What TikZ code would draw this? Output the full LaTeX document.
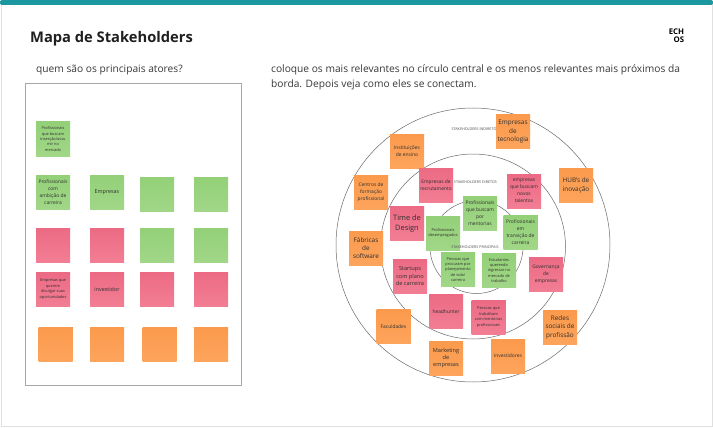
\documentclass[tikz,border=0pt]{standalone}
\usepackage{fontspec}
\setmainfont{Open Sans}
\usetikzlibrary{shadows}
\definecolor{barteal}{HTML}{1A979F}
\definecolor{inktext}{HTML}{2F2F2F}
\definecolor{greentop}{HTML}{93D077}
\definecolor{greenlow}{HTML}{A1D788}
\definecolor{pinktop}{HTML}{EC6A84}
\definecolor{pinklow}{HTML}{F27E94}
\definecolor{orangetop}{HTML}{FB9A4C}
\definecolor{orangelow}{HTML}{FDA45C}
\tikzset{
  note/.style={minimum size=34pt,inner sep=0pt,align=center,text=inktext,
    general shadow={fill=black,opacity=.38,xscale=.78,yscale=.12,yshift=-17.4pt}},
  green/.style={note,top color=greentop,bottom color=greenlow},
  pink/.style={note,top color=pinktop,bottom color=pinklow},
  orange/.style={note,top color=orangetop,bottom color=orangelow},
  fsmall/.style={font=\fontsize{3.9}{5.4}\selectfont},
  fmid/.style={font=\fontsize{4.9}{7}\selectfont},
  fbig/.style={font=\fontsize{6.4}{8.4}\selectfont},
  ring/.style={draw=black!58,line width=0.5pt},
  ringlabel/.style={font=\fontsize{3.7}{4}\selectfont,text=black!70,inner sep=0pt},
  body/.style={font=\fontsize{10.2}{15}\selectfont,text=black!78,inner sep=0pt,anchor=base west},
}
\begin{document}
\begin{tikzpicture}[x=1pt,y=-1pt]
\useasboundingbox (0,0) rectangle (713,428);
% card and top bar
\fill[white] (0,0) rectangle (713,428);
\draw[black!12,line width=0.8pt] (1,3) -- (1,426) -- (712,426) -- (712,3);
\fill[barteal,rounded corners=2pt] (0,0) rectangle (713,5);
% header
\node[font=\fontsize{14.7}{18}\selectfont\bfseries,text=black!88,inner sep=0pt,anchor=base west] (title) at (30,42.5) {Mapa de Stakeholders};
\node[font=\fontsize{7.8}{7.6}\selectfont\bfseries,inner sep=0pt,align=right] (logo) at (676.5,35.5) {ECH\\OS};
\node[body] (askleft) at (36,73) {quem são os principais atores?};
\node[body] (askright) at (271,73) {coloque os mais relevantes no círculo central e os menos relevantes mais próximos da};
\node[body] (askrighttwo) at (271,88) {borda. Depois veja como eles se conectam.};
% left board
\draw[black!35,line width=0.7pt,fill=white] (25,83.5) rectangle (241.5,385);
\node[green,fsmall] (lone) at (53,139) {Profissionais\\que buscam\\inserção/assu\\mir no\\mercado};
\node[green,fmid] (ltwoa) at (53,192) {Profissionais\\com\\ambição de\\carreira};
\node[green,font=\fontsize{5.4}{7}\selectfont] (ltwob) at (107,192) {Empresas};
\node[green] (ltwoc) at (157,194.5) {};
\node[green] (ltwod) at (211,194.5) {};
\node[pink] (lthreea) at (53,245) {};
\node[pink] (lthreeb) at (107,245) {};
\node[green] (lthreec) at (157,245) {};
\node[green] (lthreed) at (211,245) {};
\node[pink,fsmall] (lfoura) at (53,289) {Empresas que\\querem\\divulgar suas\\oportunidades};
\node[pink,font=\fontsize{5.4}{7}\selectfont] (lfourb) at (107,289) {investidor};
\node[pink] (lfourc) at (157,289) {};
\node[pink] (lfourd) at (211,289) {};
\node[orange] (lfivea) at (55.5,344) {};
\node[orange] (lfiveb) at (107,344) {};
\node[orange] (lfivec) at (159.5,344) {};
\node[orange] (lfived) at (211,344) {};
% rings
\draw[ring] (473,245) circle[radius=137] node[inner sep=0pt] (ringouter) {};
\draw[ring] (473,246.5) circle[radius=92.5] node[inner sep=0pt] (ringmiddle) {};
\draw[ring] (476.5,247) circle[radius=46.5] node[inner sep=0pt] (ringinner) {};
\node[ringlabel] (labindirect) at (475,129.5) {STAKEHOLDERS INDIRETOS};
\node[ringlabel] (labdirect) at (475.5,182.5) {STAKEHOLDERS DIRETOS};
% outer ring notes
\node[orange,fmid] (rinst) at (407,151) {Instituições\\de ensino};
\node[orange,fmid] (rcentros) at (371,192) {Centros de\\formação\\profissional};
\node[orange,fbig] (rtec) at (513,131.5) {Empresas\\de\\tecnologia};
\node[orange,fbig] (rhub) at (576,185.5) {HUB's de\\inovação};
\node[orange,fbig] (rfab) at (366,248) {Fábricas\\de\\software};
\node[orange,fmid] (rfac) at (393.5,326.5) {Faculdades};
\node[orange,fbig] (rredes) at (560,327) {Redes\\sociais de\\profissão};
\node[orange,font=\fontsize{5.6}{7.4}\selectfont] (rmkt) at (446,358) {Marketing\\de\\empresas};
\node[orange,fmid] (rinv) at (508,356) {Investidores};
% middle ring notes
\node[pink,fmid] (rrecr) at (436,185.5) {Empresas de\\recrutamento};
\node[pink,font=\fontsize{7.4}{10}\selectfont] (rtime) at (407,223.5) {Time de\\Design};
\node[pink,fmid] (rtal) at (524,191) {empresas\\que buscam\\novos\\talentos};
\node[pink,font=\fontsize{5.6}{7.4}\selectfont] (rstart) at (410,276) {Startups\\com plano\\de carreira};
\node[pink,fmid] (rgov) at (546,274) {Governança\\de\\empresas};
\node[pink,fmid] (rhead) at (446,311.5) {headhunter};
\node[pink,fsmall] (rtrab) at (488.5,317) {Pessoas que\\trabalham\\com mentorias\\profissionais};
% inner ring notes
\node[green,fsmall] (rdes) at (443,233) {Profissionais\\desempregados};
\node[green,fmid] (rment) at (480,213) {Profissionais\\que buscam\\por\\mentorias};
\node[green,fmid] (rtrans) at (520.5,232) {Profissionais\\em\\transição de\\carreira};
\node[green,fsmall] (rplan) at (458,269.5) {Pessoas que\\procuram por\\planejamento\\de vida/\\carreira};
\node[green,fsmall] (rest) at (499,270.5) {Estudantes\\querendo\\ingressar no\\mercado de\\trabalho};
\node[ringlabel] (labprincipal) at (475,247.5) {STAKEHOLDERS PRINCIPAIS};
\end{tikzpicture}
\end{document}
